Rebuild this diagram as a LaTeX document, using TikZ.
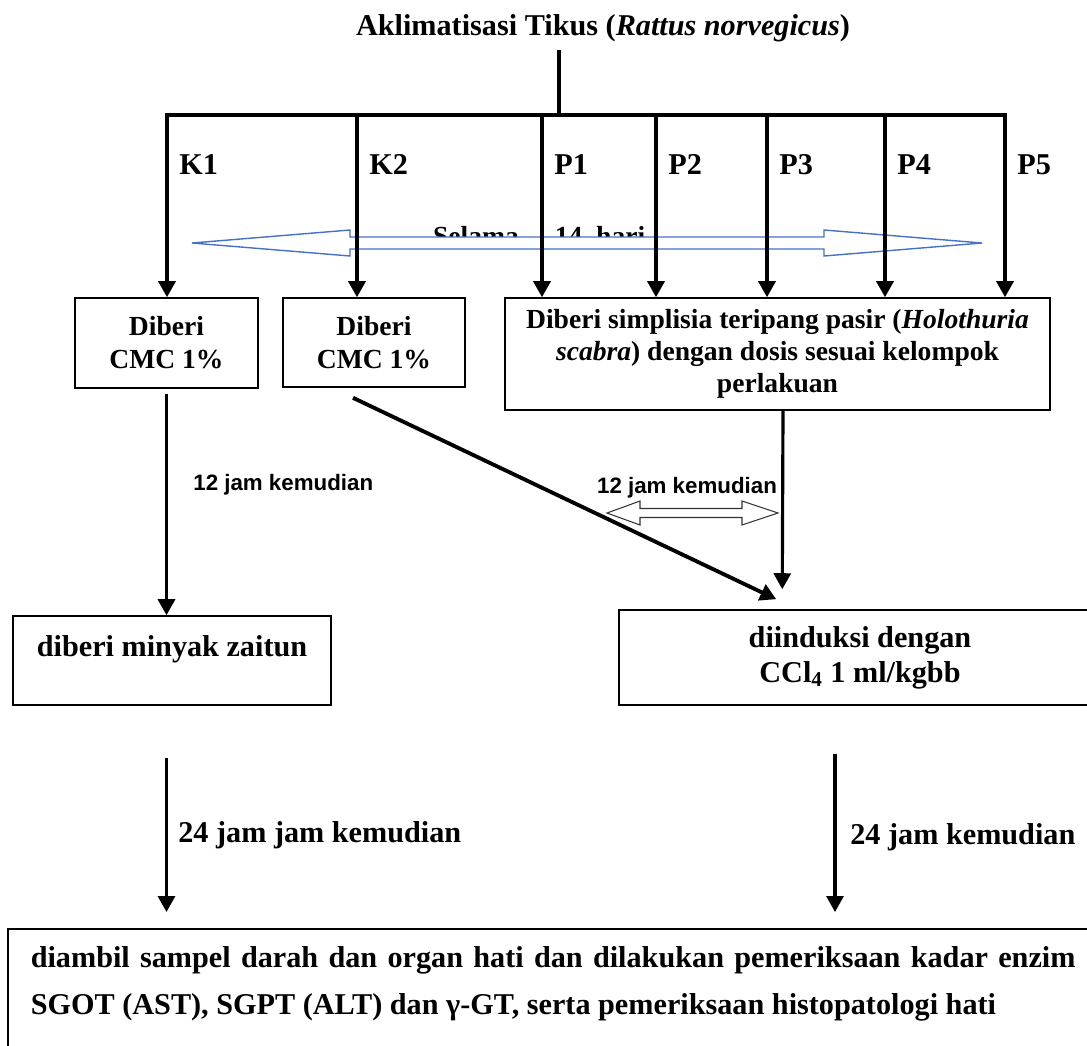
\documentclass[tikz,border=0pt]{standalone}
\usepackage{fontspec}
\setmainfont{Liberation Serif}
\newfontfamily\labelsans{Liberation Sans}
\usetikzlibrary{arrows.meta, calc}
\definecolor{selamablue}{RGB}{68,114,196}
\tikzset{
    box/.style = {draw, line width = 0.9pt, align = center, inner sep = 0pt},
    arr/.style = {-{Triangle[length = 0.32cm, width = 0.34cm]}, line width = 1.8pt},
    bigtext/.style = {font = \bfseries\fontsize{17.2}{20}\selectfont},
    boxtext/.style = {font = \bfseries\fontsize{15.7}{18.7}\selectfont},
    sanstext/.style = {font = \labelsans\bfseries\fontsize{12.7}{15}\selectfont}
}
\begin{document}
\begin{tikzpicture}[x = 0.02cm, y = -0.02cm]
    \useasboundingbox (0, 0) rectangle (1087, 1045);
    \node [bigtext] (title) at (603, 28) {Aklimatisasi Tikus (\textit{Rattus norvegicus})};
    \coordinate (stemtop) at (559, 50);
    \foreach \name/\x in {k1/167, k2/357, p1/542, p2/656, p3/767, p4/885, p5/1005}
        \coordinate (\name) at (\x, 115);
    \draw [line width = 1.8pt] (stemtop) -- (stemtop |- k1);
    \draw [line width = 2.8pt, line cap = rect] (k1) -- (p5);
    \foreach \name/\lab in {k1/K1, k2/K2, p1/P1, p2/P2, p3/P3, p4/P4, p5/P5}
        \node [bigtext, anchor = base west, inner sep = 0pt] (lab\name) at ($(\name) + (12, 59)$) {\lab};
    \node [boxtext, anchor = base] (selama) at (476, 245) {Selama};
    \node [boxtext, anchor = base] (hari) at (600, 245) {14 \ hari};
    \draw [selamablue, fill = white, line width = 0.8pt] (192, 243) -- (350, 230) -- (350, 237) -- (824, 237) -- (824, 230) -- (982, 243)
        -- (824, 256) -- (824, 249) -- (350, 249) -- (350, 256) -- cycle;
    \node [box, boxtext, minimum width = 3.66cm, minimum height = 1.8cm] (k1box) at (166.5, 343) {Diberi\\CMC 1\%};
    \node [box, boxtext, minimum width = 3.64cm, minimum height = 1.78cm] (k2box) at (374, 342.5) {Diberi\\CMC 1\%};
    \node [box, boxtext, minimum width = 10.9cm, minimum height = 2.24cm, font = \bfseries\fontsize{15.7}{18.2}\selectfont] (pbox) at (777.5, 354)
        {Diberi simplisia teripang pasir (\textit{Holothuria}\\\textit{scabra}) dengan dosis sesuai kelompok\\perlakuan};
    \draw [arr] (k1) -- (k1 |- k1box.north);
    \draw [arr] (k2) -- (k2 |- k2box.north);
    \foreach \name in {p1, p2, p3, p4, p5}
        \draw [arr] (\name) -- (\name |- pbox.north);
    \node [box, bigtext, minimum width = 6.36cm, minimum height = 1.78cm, text depth = 0.6cm] (zaitun) at (172, 660.5) {diberi minyak zaitun};
    \node [box, bigtext, minimum width = 9.64cm, minimum height = 1.9cm, font = \bfseries\fontsize{17.2}{19.9}\selectfont] (ccl) at (860, 657.5)
        {diinduksi dengan\\CCl\textsubscript{4} 1 ml/kgbb};
    \node [box, anchor = north west, text width = 20.9cm, align = justify, inner xsep = 0.46cm, inner ysep = 0.36cm,
        font = \bfseries\fontsize{17.2}{26.7}\selectfont] (hasil) at (7, 928)
        {diambil sampel darah dan organ hati dan dilakukan pemeriksaan kadar enzim\linebreak
        SGOT (AST), SGPT (ALT) dan γ-GT, serta pemeriksaan histopatologi hati\\[0.5cm]\mbox{}};
    \draw [arr] ($(k1box.south) + (0, 5)$) -- (k1box.south |- zaitun.north);
    \node [sanstext, anchor = west, inner sep = 0pt] (jam1) at (193, 485) {12 jam kemudian};
    \draw [black!80, fill = white, line width = 0.6pt] (607, 513) -- (640, 501) -- (640, 508.5) -- (742, 508.5) -- (742, 501) -- (778, 513)
        -- (742, 525) -- (742, 517.5) -- (640, 517.5) -- (640, 525) -- cycle;
    \node [sanstext] (jam2) at (687, 488) {12 jam kemudian};
    \draw [arr, line width = 2.2pt] ($(k2box.south) + (-21, 10)$) -- ($(ccl.north west) + (158, -10)$);
    \draw [arr] ($(pbox.south) + (5.5, 0)$) -- ($(ccl.north west) + (164, -20)$);
    \draw [arr, shorten <= 1.04cm, shorten >= 0.32cm] (k1box.south |- zaitun.south) -- (k1box.south |- hasil.north);
    \draw [arr, shorten <= 0.96cm, shorten >= 0.32cm] ($(ccl.south) + (-25, 0)$) coordinate (cclout) -- (cclout |- hasil.north);
    \node [bigtext, anchor = west, inner sep = 0pt] (jam3) at (178, 835) {24 jam jam kemudian};
    \node [bigtext, anchor = west, inner sep = 0pt] (jam4) at (850, 837) {24 jam kemudian};
\end{tikzpicture}
\end{document}
